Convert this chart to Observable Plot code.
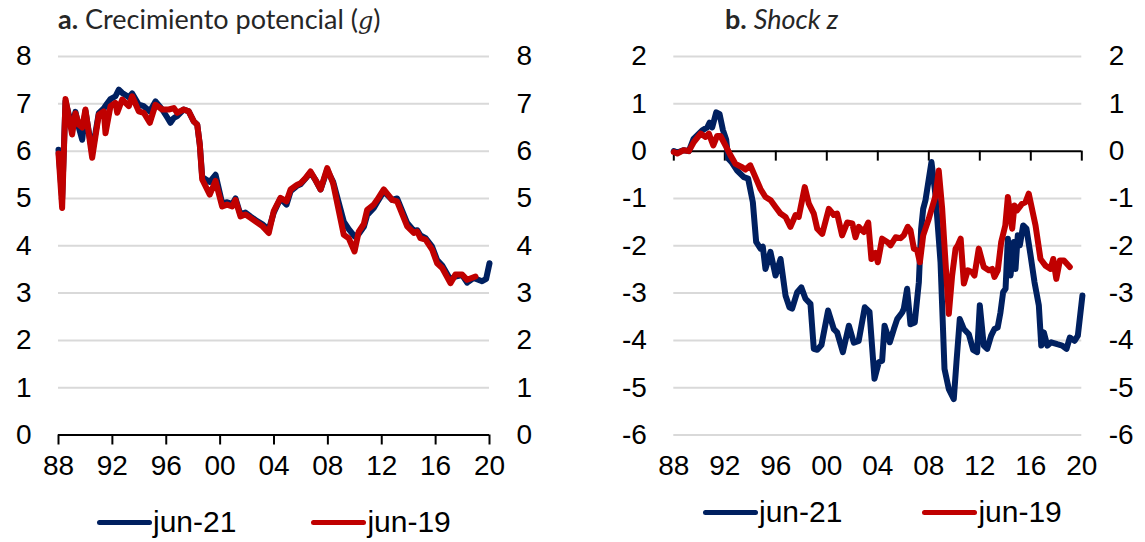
<!DOCTYPE html>
<html>
<head>
<meta charset="utf-8">
<script src="https://cdn.jsdelivr.net/npm/d3@7"></script>
<script src="https://cdn.jsdelivr.net/npm/@observablehq/plot@0.6"></script>
<style>
  body { margin: 0; background: #fff; }
  #root { position: relative; width: 1145px; height: 542px; overflow: hidden; background: #fff; }
  .panel { position: absolute; top: 0; }
  .title { position: absolute; top: 1px; font-family: Lato, "Open Sans", sans-serif; font-size: 27px; line-height: 36px; color: #262626; white-space: nowrap; }
  .title i.m { font-family: "DejaVu Serif", serif; font-size: 24px; }
  .legend { position: absolute; display: flex; align-items: center; font-family: "Liberation Sans", Arial, sans-serif; font-size: 30px; color: #000; white-space: nowrap; }
  .legend .item { display: flex; align-items: center; }
  .legend .sw { display: inline-block; width: 55px; height: 5px; border-radius: 3px; margin-right: 1px; }
</style>
</head>
<body>
<div id="root"></div>
<script>
// ---- data ----
const xTickYears = [1988, 1992, 1996, 2000, 2004, 2008, 2012, 2016, 2020];
const gTicks = [0, 1, 2, 3, 4, 5, 6, 7, 8];
const zTicks = [-6, -5, -4, -3, -2, -1, 0, 1, 2];
const seriesNames = ["jun-21", "jun-19"];
const seriesColors = ["#002060", "#C00000"];

// Panel a: potential growth g  [year, value]
const gJun21 = [[1988.0,6.03],[1988.27,5.0],[1988.52,7.05],[1989.01,6.5],[1989.26,6.83],[1989.51,6.5],[1989.76,6.24],[1990.0,6.85],[1990.5,5.97],[1990.99,6.8],[1991.36,6.9],[1991.6,7.0],[1991.86,7.1],[1992.23,7.16],[1992.48,7.3],[1992.73,7.23],[1993.0,7.18],[1993.22,7.14],[1993.47,7.22],[1993.96,6.98],[1994.33,6.95],[1994.78,6.84],[1995.2,7.05],[1995.7,6.88],[1996.1,6.7],[1996.31,6.6],[1996.56,6.7],[1996.81,6.74],[1997.3,6.88],[1997.67,6.84],[1998.04,6.63],[1998.3,6.56],[1998.49,6.14],[1998.67,5.45],[1998.95,5.4],[1999.23,5.35],[1999.66,5.5],[2000.15,4.9],[2000.52,4.92],[2000.9,4.88],[2001.14,5.0],[2001.51,4.66],[2001.88,4.7],[2002.25,4.62],[2002.75,4.52],[2003.12,4.46],[2003.61,4.34],[2003.98,4.7],[2004.48,5.0],[2004.93,4.87],[2005.23,5.15],[2005.72,5.27],[2005.97,5.3],[2006.34,5.42],[2006.71,5.55],[2007.08,5.39],[2007.46,5.19],[2007.95,5.6],[2008.39,5.35],[2009.18,4.51],[2009.55,4.35],[2009.98,4.2],[2010.29,4.25],[2010.67,4.4],[2010.92,4.65],[2011.41,4.8],[2011.66,4.92],[2012.15,5.15],[2012.77,4.97],[2013.14,5.0],[2013.89,4.48],[2014.38,4.32],[2014.63,4.33],[2014.87,4.22],[2015.25,4.16],[2015.74,3.98],[2016.11,3.7],[2016.49,3.58],[2017.1,3.28],[2017.47,3.35],[2017.97,3.38],[2018.34,3.22],[2018.83,3.32],[2019.45,3.25],[2019.75,3.3],[2020.0,3.63]];
const gJun19 = [[1988.0,5.95],[1988.27,4.8],[1988.52,7.1],[1989.01,6.35],[1989.26,6.8],[1989.51,6.56],[1989.76,6.5],[1990.0,6.88],[1990.5,5.86],[1990.99,6.77],[1991.36,6.84],[1991.49,6.38],[1991.86,6.95],[1992.23,7.02],[1992.36,6.81],[1992.73,7.09],[1993.22,6.95],[1993.47,7.16],[1993.96,6.84],[1994.33,6.81],[1994.78,6.6],[1995.2,6.98],[1995.7,6.88],[1996.19,6.88],[1996.56,6.91],[1996.81,6.81],[1997.3,6.88],[1997.67,6.84],[1998.04,6.63],[1998.3,6.56],[1998.49,6.14],[1998.67,5.4],[1999.23,5.08],[1999.66,5.37],[2000.15,4.83],[2000.52,4.87],[2000.9,4.83],[2001.14,4.97],[2001.51,4.62],[2001.88,4.66],[2002.25,4.59],[2002.75,4.49],[2003.12,4.42],[2003.61,4.27],[2003.98,4.73],[2004.48,5.01],[2004.93,4.94],[2005.23,5.19],[2005.72,5.29],[2005.97,5.32],[2006.34,5.43],[2006.71,5.57],[2007.08,5.39],[2007.46,5.19],[2007.95,5.64],[2008.39,5.32],[2009.18,4.23],[2009.55,4.16],[2009.98,3.88],[2010.29,4.3],[2010.67,4.46],[2010.92,4.76],[2011.41,4.87],[2011.66,4.97],[2012.15,5.19],[2012.77,4.97],[2013.14,4.94],[2013.89,4.41],[2014.38,4.27],[2014.63,4.3],[2014.87,4.16],[2015.25,4.13],[2015.74,3.92],[2016.11,3.63],[2016.49,3.53],[2017.1,3.21],[2017.47,3.39],[2017.97,3.39],[2018.34,3.28],[2018.96,3.35]];

// Panel b: shock z  [year, value]
const zJun21 = [[1988.0,0.0],[1988.27,-0.03],[1988.78,0.02],[1989.18,0.0],[1989.55,0.26],[1990.23,0.44],[1990.62,0.5],[1990.8,0.6],[1991.01,0.5],[1991.33,0.82],[1991.59,0.78],[1991.85,0.45],[1992.11,0.24],[1992.27,-0.16],[1992.53,-0.23],[1992.97,-0.41],[1993.49,-0.55],[1993.83,-0.58],[1994.2,-1.08],[1994.46,-1.92],[1994.8,-2.06],[1994.98,-2.02],[1995.19,-2.49],[1995.58,-2.13],[1995.98,-2.63],[1996.37,-2.28],[1996.76,-3.05],[1997.07,-3.3],[1997.28,-3.33],[1997.68,-2.98],[1998.0,-2.88],[1998.33,-3.12],[1998.72,-3.23],[1998.98,-4.18],[1999.25,-4.2],[1999.58,-4.1],[2000.1,-3.37],[2000.55,-3.76],[2000.81,-3.83],[2001.26,-4.25],[2001.73,-3.69],[2002.12,-4.05],[2002.5,-4.01],[2002.98,-3.3],[2003.35,-3.4],[2003.74,-4.81],[2004.08,-4.46],[2004.34,-4.43],[2004.53,-3.69],[2004.94,-4.04],[2005.26,-3.76],[2005.52,-3.55],[2005.91,-3.41],[2006.04,-3.33],[2006.3,-2.91],[2006.56,-3.66],[2006.9,-3.62],[2007.22,-2.77],[2007.4,-1.64],[2007.56,-1.22],[2007.74,-1.04],[2008.21,-0.23],[2008.53,-0.94],[2008.92,-2.35],[2009.23,-4.6],[2009.57,-5.03],[2009.96,-5.24],[2010.17,-4.46],[2010.43,-3.55],[2010.75,-3.76],[2011.14,-3.87],[2011.48,-4.2],[2011.79,-4.25],[2012.0,-3.26],[2012.31,-4.11],[2012.58,-4.18],[2012.89,-3.9],[2013.15,-3.76],[2013.4,-3.73],[2013.62,-3.41],[2013.83,-2.98],[2014.02,-2.91],[2014.2,-1.85],[2014.41,-2.63],[2014.67,-1.92],[2014.8,-2.49],[2014.98,-1.78],[2015.14,-1.99],[2015.4,-1.57],[2015.66,-1.64],[2015.98,-2.2],[2016.29,-2.77],[2016.63,-3.26],[2016.82,-4.11],[2017.02,-3.83],[2017.29,-4.11],[2017.6,-4.04],[2018.07,-4.08],[2018.46,-4.11],[2018.8,-4.18],[2019.06,-3.94],[2019.43,-4.01],[2019.69,-3.9],[2020.05,-3.05]];
const zJun19 = [[1988.0,-0.02],[1988.27,-0.05],[1988.78,0.02],[1989.18,0.0],[1989.57,0.19],[1990.1,0.37],[1990.49,0.3],[1990.75,0.37],[1991.1,0.12],[1991.4,0.32],[1991.66,0.32],[1992.05,0.12],[1992.45,-0.09],[1992.84,-0.27],[1993.36,-0.34],[1993.62,-0.39],[1994.0,-0.3],[1994.4,-0.55],[1994.8,-0.8],[1995.19,-0.97],[1995.6,-1.04],[1995.98,-1.18],[1996.37,-1.32],[1996.76,-1.39],[1997.15,-1.6],[1997.55,-1.35],[1997.8,-1.39],[1998.27,-0.76],[1998.59,-1.11],[1998.98,-1.32],[1999.25,-1.64],[1999.64,-1.75],[2000.16,-1.22],[2000.55,-1.35],[2000.81,-1.32],[2001.2,-1.78],[2001.6,-1.51],[2002.0,-1.53],[2002.25,-1.82],[2002.51,-1.6],[2002.9,-1.71],[2003.25,-1.51],[2003.5,-2.28],[2003.82,-2.15],[2004.0,-2.35],[2004.34,-1.85],[2004.74,-1.92],[2005.0,-1.99],[2005.4,-1.82],[2005.78,-1.84],[2006.04,-1.78],[2006.35,-1.6],[2006.56,-1.67],[2006.83,-2.06],[2007.09,-2.1],[2007.3,-2.35],[2007.56,-1.78],[2008.0,-1.43],[2008.53,-0.94],[2008.78,-0.41],[2009.05,-1.22],[2009.31,-2.35],[2009.57,-3.44],[2009.83,-2.63],[2010.1,-2.06],[2010.28,-1.99],[2010.5,-1.85],[2010.75,-2.8],[2011.06,-2.52],[2011.4,-2.56],[2011.58,-2.63],[2011.92,-2.06],[2012.31,-2.45],[2012.7,-2.52],[2012.97,-2.49],[2013.15,-2.66],[2013.41,-2.52],[2013.68,-1.92],[2014.0,-1.57],[2014.2,-0.97],[2014.54,-1.64],[2014.72,-1.15],[2014.93,-1.25],[2015.32,-1.11],[2015.58,-1.08],[2015.84,-0.9],[2016.37,-1.57],[2016.76,-2.28],[2017.15,-2.42],[2017.55,-2.49],[2017.76,-2.28],[2018.0,-2.7],[2018.28,-2.31],[2018.6,-2.31],[2019.06,-2.45]];

// ---- drawing ----
const FONT = '"Liberation Sans", Arial, sans-serif';
const TICK_FS = 28;
const GRID = "#d9d9d9";
const toRows = arr => arr.map(([t, v]) => ({t, v}));
const fmtYear = d => String(d % 100).padStart(2, "0");

function makePanel({width, marginLeft, marginRight, yDomain, yTicks, axisValue, series}) {
  const height = 542, marginTop = 56, marginBottom = 107.5;
  const pxPerUnit = (height - marginTop - marginBottom) / (yDomain[1] - yDomain[0]);
  const tickLen = 10 / pxPerUnit;
  const gridValues = yTicks.filter(v => v !== axisValue);
  return Plot.plot({
    width, height, marginLeft, marginRight, marginTop, marginBottom,
    style: {fontFamily: FONT, fontSize: TICK_FS + "px", color: "#000", background: "transparent", overflow: "visible"},
    x: {domain: [1988, 2020]},
    y: {domain: yDomain},
    marks: [
      Plot.ruleY(gridValues, {stroke: GRID, strokeWidth: 2}),
      Plot.ruleY([axisValue], {stroke: "#000", strokeWidth: 2}),
      Plot.ruleX(xTickYears, {y1: axisValue, y2: axisValue - tickLen, stroke: "#000", strokeWidth: 2}),
      Plot.axisX({ticks: xTickYears, tickFormat: fmtYear, tickSize: 0, tickPadding: 20, fontSize: TICK_FS, label: null}),
      Plot.axisY({anchor: "left", ticks: yTicks, tickFormat: d => String(d), tickSize: 0, tickPadding: 27, fontSize: TICK_FS, label: null}),
      Plot.axisY({anchor: "right", ticks: yTicks, tickFormat: d => String(d), tickSize: 0, tickPadding: 27, fontSize: TICK_FS, label: null}),
      ...series.map((s, i) => Plot.line(toRows(s), {x: "t", y: "v", stroke: seriesColors[i], strokeWidth: 6, strokeLinejoin: "round", strokeLinecap: "round"}))
    ]
  });
}

const root = document.getElementById("root");

const left = makePanel({width: 560, marginLeft: 58, marginRight: 71, yDomain: [0, 8], yTicks: gTicks, axisValue: 0, series: [gJun21, gJun19]});
left.classList.add("panel"); left.style.left = "0px";
root.appendChild(left);

const right = makePanel({width: 565, marginLeft: 93.3, marginRight: 63.7, yDomain: [-6, 2], yTicks: zTicks, axisValue: 0, series: [zJun21, zJun19]});
right.classList.add("panel"); right.style.left = "580px";
root.appendChild(right);

// titles
function addTitle(html, x) {
  const d = document.createElement("div");
  d.className = "title"; d.style.left = x + "px"; d.innerHTML = html;
  root.appendChild(d);
}
addTitle('<b>a.</b> Crecimiento potencial (<i class="m">g</i>)', 58);
addTitle('<b>b.</b> <i>Shock z</i>', 725);

// legends
function addLegend(x, y, gap) {
  const d = document.createElement("div");
  d.className = "legend"; d.style.left = x + "px"; d.style.top = (y - 20) + "px"; d.style.height = "40px";
  seriesNames.forEach((name, i) => {
    const it = document.createElement("span");
    it.className = "item"; if (i > 0) it.style.marginLeft = gap + "px";
    const sw = document.createElement("span"); sw.className = "sw"; sw.style.background = seriesColors[i];
    const tx = document.createElement("span"); tx.textContent = name;
    it.appendChild(sw); it.appendChild(tx); d.appendChild(it);
  });
  root.appendChild(d);
}
addLegend(97, 522, 75);
addLegend(703, 512, 80);
</script>
</body>
</html>
